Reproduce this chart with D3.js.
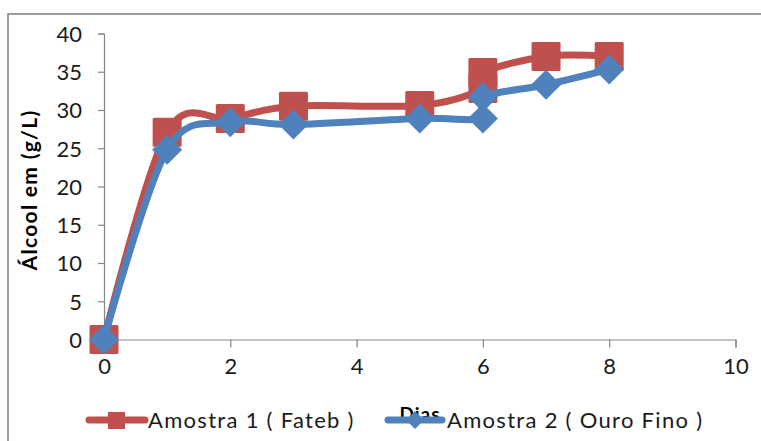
<!DOCTYPE html>
<html>
<head>
<meta charset="utf-8">
<script src="https://cdn.jsdelivr.net/npm/d3@7"></script>
<style>
  html, body { margin: 0; padding: 0; background: #fff; }
  svg { display: block; }
</style>
</head>
<body>
<script>
// ---- data ----
const days1 = [0, 1, 2, 3, 5, 6, 6, 7, 8];
const amostra1 = [0, 27.1, 28.9, 30.5, 30.6, 32.8, 34.9, 37.0, 37.0];
const days2 = [0, 1, 2, 3, 5, 6, 6, 7, 8];
const amostra2 = [0, 24.8, 28.4, 28.1, 28.9, 28.9, 31.7, 33.3, 35.3];
const seriesNames = ["Amostra 1 ( Fateb )", "Amostra 2 ( Ouro Fino )"];
const xTicks = [0, 2, 4, 6, 8, 10];
const yTicks = [0, 5, 10, 15, 20, 25, 30, 35, 40];
const xTitle = "Dias";
const yTitle = "Álcool em (g/L)";

const W = 761, H = 441;
const red = "#C0504D", blue = "#4F81BD";
const font = "Lato, 'Open Sans', sans-serif";

const svg = d3.select("body").append("svg").attr("width", W).attr("height", H);

// outer border
svg.append("rect").attr("x", 8).attr("y", 14).attr("width", 760).attr("height", 440)
  .attr("fill", "#fff").attr("stroke", "#868686").attr("stroke-width", 1.6);

const x = d3.scaleLinear().domain([0, 10]).range([104, 735.5]);
const y = d3.scaleLinear().domain([0, 40]).range([339.5, 33.5]);

// axes
const yAxis = d3.axisLeft(y).tickValues(yTicks).tickSize(6).tickPadding(16);
const gy = svg.append("g").attr("transform", `translate(${x(0)},0)`).call(yAxis);
const xAxis = d3.axisBottom(x).tickValues(xTicks).tickSize(8).tickPadding(11);
const gx = svg.append("g").attr("transform", `translate(0,${y(0)})`).call(xAxis);
[gx, gy].forEach(g => {
  g.select(".domain").attr("stroke", "#868686").attr("stroke-width", 1.2);
  g.selectAll(".tick line").attr("stroke", "#868686").attr("stroke-width", 1.2);
  g.selectAll(".tick text").attr("fill", "#1a1a1a").style("font-family", font).style("font-size", "22px");
});
gy.selectAll(".tick text").attr("dy", "0.36em");
gx.selectAll(".tick text").attr("dy", "0.72em");

// axis titles
svg.append("text").attr("transform", "translate(37,190) rotate(-90)")
  .attr("text-anchor", "middle").style("font-family", font).style("font-weight", "bold")
  .style("font-size", "21px").style("letter-spacing", "1.3px").attr("fill", "#000").text(yTitle);
svg.append("text").attr("x", 420).attr("y", 421).attr("text-anchor", "middle")
  .style("font-family", font).style("font-weight", "bold").style("font-size", "19px")
  .style("letter-spacing", "1px").attr("fill", "#000").text(xTitle);

const line = d3.line().x(d => x(d[0])).y(d => y(d[1])).curve(d3.curveCatmullRom.alpha(0));
const d1 = days1.map((d, i) => [d, amostra1[i]]);
const d2 = days2.map((d, i) => [d, amostra2[i]]);

// series 1
svg.append("path").datum(d1).attr("d", line).attr("fill", "none")
  .attr("stroke", red).attr("stroke-width", 7).attr("stroke-linejoin", "round").attr("stroke-linecap", "round");
svg.selectAll(".sq").data(d1).enter().append("rect")
  .attr("x", d => x(d[0]) - 14.5).attr("y", d => y(d[1]) - 14.5)
  .attr("width", 29).attr("height", 29).attr("rx", 1.5).attr("fill", red);

// series 2
svg.append("path").datum(d2).attr("d", line).attr("fill", "none")
  .attr("stroke", blue).attr("stroke-width", 7).attr("stroke-linejoin", "round").attr("stroke-linecap", "round");
const diamond = r => `M0,${-r}L${r},0L0,${r}L${-r},0Z`;
svg.selectAll(".dm").data(d2).enter().append("path")
  .attr("transform", d => `translate(${x(d[0])},${y(d[1])})`)
  .attr("d", diamond(15)).attr("fill", blue);

// legend
const lg = svg.append("g");
lg.append("line").attr("x1", 89).attr("x2", 145).attr("y1", 420).attr("y2", 420)
  .attr("stroke", red).attr("stroke-width", 7).attr("stroke-linecap", "round");
lg.append("rect").attr("x", 108).attr("y", 412).attr("width", 17).attr("height", 17).attr("fill", red);
lg.append("text").attr("x", 148).attr("y", 428).style("font-family", font).style("font-size", "22px")
  .style("letter-spacing", "1.3px").attr("fill", "#1a1a1a").text(seriesNames[0]);
lg.append("line").attr("x1", 388).attr("x2", 442).attr("y1", 420).attr("y2", 420)
  .attr("stroke", blue).attr("stroke-width", 7).attr("stroke-linecap", "round");
lg.append("path").attr("transform", "translate(415,420)").attr("d", diamond(9)).attr("fill", blue);
lg.append("text").attr("x", 447).attr("y", 428).style("font-family", font).style("font-size", "22px")
  .style("letter-spacing", "1.3px").attr("fill", "#1a1a1a").text(seriesNames[1]);
</script>
</body>
</html>
